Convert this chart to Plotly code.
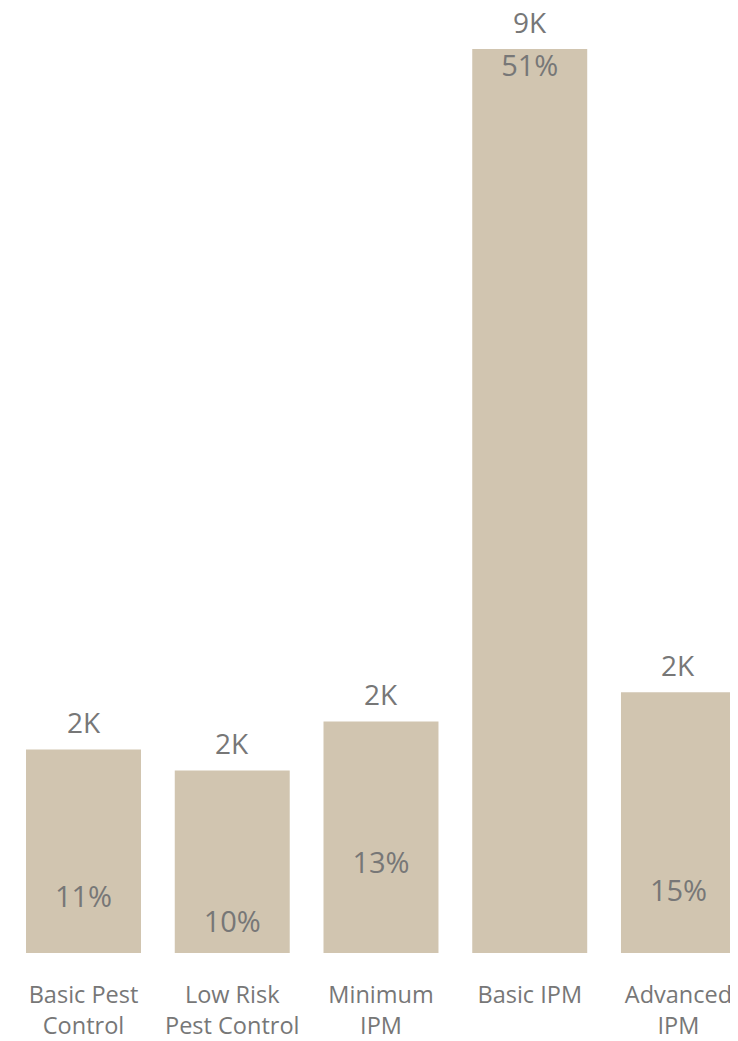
import plotly.graph_objects as go

categories = ["Basic Pest<br>Control", "Low Risk<br>Pest Control", "Minimum<br>IPM", "Basic IPM", "Advanced<br>IPM"]
counts = [1937, 1737, 2203, 8600, 2480]
count_labels = ["2K", "2K", "2K", "9K", "2K"]
pct_labels = ["11%", "10%", "13%", "51%", "15%"]
pct_label_at = [509, 271, 832, 8413, 566]

BAR = "#D1C5B0"
TXT = "#777777"
FONT = "Open Sans"

fig = go.Figure()
fig.add_trace(go.Bar(
    x=categories, y=counts, marker=dict(color=BAR, line=dict(width=0)),
    hoverinfo="skip",
))
fig.add_trace(go.Scatter(
    x=categories, y=pct_label_at, mode="text", text=pct_labels,
    textposition="middle center",
    textfont=dict(family=FONT, size=29, color=TXT),
    cliponaxis=False, hoverinfo="skip",
))
for c, v, lab in zip(categories, counts, count_labels):
    fig.add_annotation(x=c, y=v, text=lab, showarrow=False, yanchor="bottom",
                       yshift=6, font=dict(family=FONT, size=28, color=TXT))

fig.update_layout(
    width=738, height=1033,
    margin=dict(l=0, r=0, t=0, b=88),
    paper_bgcolor="white", plot_bgcolor="white",
    showlegend=False, bargap=0.227,
    xaxis=dict(range=[-0.5076, 4.454], showgrid=False, zeroline=False, showline=False,
               ticks="outside", ticklen=21, tickcolor="rgba(0,0,0,0)",
               tickfont=dict(family=FONT, size=23.5, color=TXT)),
    yaxis=dict(range=[0, 8990], visible=False),
)

fig.write_html("out.html")
